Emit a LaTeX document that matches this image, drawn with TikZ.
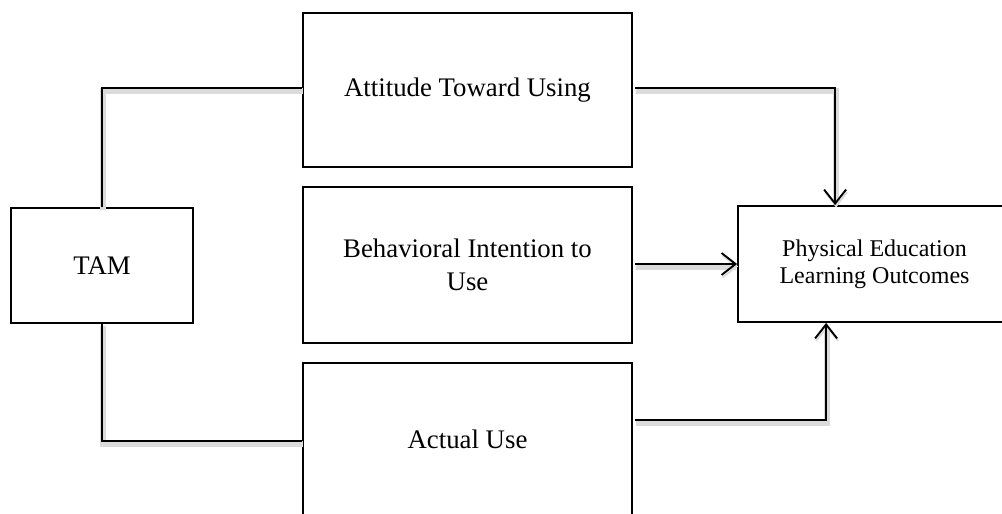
\documentclass[tikz,border=0pt]{standalone}
\usepackage{fontspec}
\setmainfont{Liberation Serif}
\usetikzlibrary{arrows.meta}
\begin{document}
\begin{tikzpicture}[x=1pt,y=-1pt,
  box/.style={draw=black, line width=1.8pt, fill=white, align=center, inner sep=0pt},
  conn/.style={line width=1.9pt, draw=black,
    preaction={draw=black!14, line width=6pt, transform canvas={shift={(1pt,-2.5pt)}}}},
  tip/.style={-{Straight Barb[length=14pt,width=22pt,line width=1.9pt]}},
  bigtxt/.style={font=\fontsize{26.8}{33}\selectfont},
  smtxt/.style={font=\fontsize{24}{28}\selectfont}]
\useasboundingbox (0,0) rectangle (1002,514);
\clip (0,0) rectangle (1002,514);
% boxes
\node[box,bigtxt, minimum width=182pt, minimum height=115pt] (tam) at (102,265.5) {TAM};
\node[box,bigtxt, minimum width=329pt, minimum height=154pt] (att) at (467.5,90) {\raisebox{-3pt}{Attitude Toward Using}};
\node[box,bigtxt, minimum width=329pt, minimum height=156pt] (beh) at (467.5,265) {Behavioral Intention to\\Use};
\node[box,bigtxt, minimum width=329pt, minimum height=153pt] (act) at (467.5,439.5) {Actual Use};
\node[box,smtxt, minimum width=310pt, minimum height=116pt, align=left] (pe) at (893,264)
  {\hspace*{-37pt}\begin{tabular}{@{}c@{}}Physical Education\\[-1pt]Learning Outcomes\end{tabular}};
% connectors
\draw[conn] (tam.north) |- ([yshift=2pt]att.west);
\draw[conn] (tam.south) |- ([yshift=-1.5pt]act.west);
\draw[conn,tip] ([xshift=2pt,yshift=2pt]att.east) -| ([xshift=98pt]pe.north west);
\draw[conn,tip] ([xshift=2pt,yshift=1pt]beh.east) -- ([yshift=1pt]beh.east -| pe.west);
\draw[conn,tip] ([xshift=2pt,yshift=19.5pt]act.east) -| ([xshift=89pt]pe.south west);
\end{tikzpicture}
\end{document}
